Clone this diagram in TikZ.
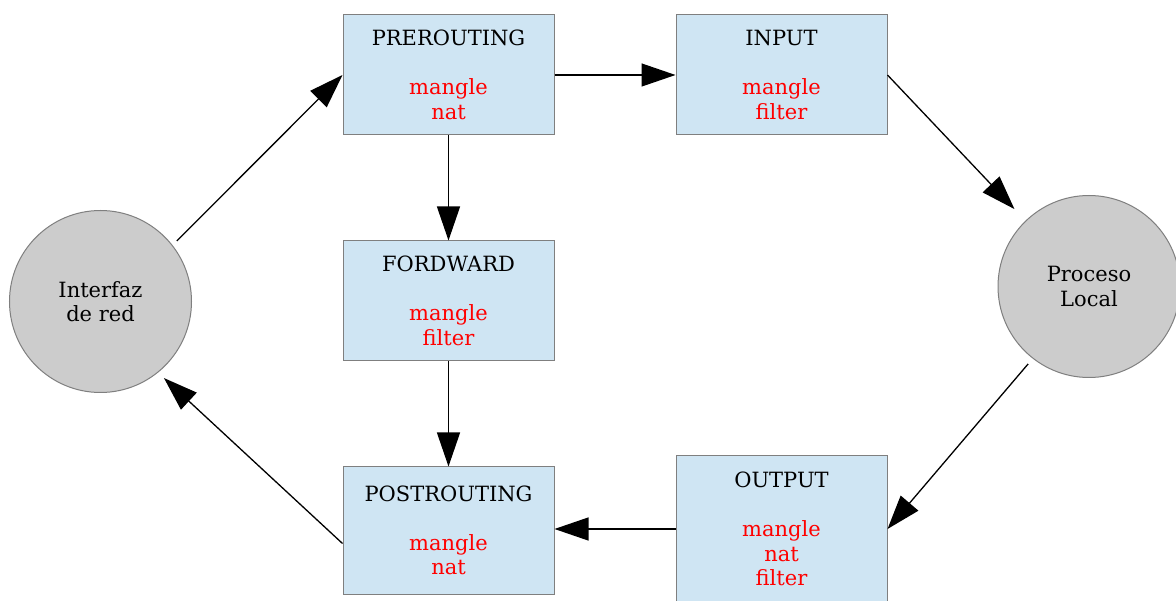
\documentclass[tikz,border=0pt]{standalone}
\usepackage{fontspec}
\setmainfont{DejaVu Serif}
\usetikzlibrary{arrows.meta}
\definecolor{boxfill}{HTML}{CFE5F3}
\definecolor{boxline}{HTML}{7F7F7F}
\definecolor{discfill}{HTML}{CCCCCC}
\definecolor{tablered}{HTML}{FF0000}
\tikzset{
  chain/.style={draw=boxline, fill=boxfill, line width=1pt,
    minimum width=211pt, inner sep=0pt, align=center,
    font=\fontsize{21}{24.5}\selectfont},
  endpoint/.style={draw=boxline, fill=discfill, line width=1pt, circle,
    minimum size=182pt, inner sep=0pt, align=center,
    font=\fontsize{21}{24.5}\selectfont},
  flow/.style={line width=1.3pt, -{Triangle[length=34pt,width=23pt]}},
}
\newcommand{\tbl}[1]{\textcolor{tablered}{#1}}
\begin{document}
\begin{tikzpicture}[x=1pt,y=-1pt]
\useasboundingbox (0,0) rectangle (1176,601);

% netfilter chains
\node[chain, minimum height=120pt] (pre) at (448.5,75)
  {PREROUTING\\[24.5pt]\tbl{mangle}\\\tbl{nat}};
\node[chain, minimum height=120pt] (inp) at (781.5,75)
  {INPUT\\[24.5pt]\tbl{mangle}\\\tbl{filter}};
\node[chain, minimum height=120pt] (fwd) at (448.5,301)
  {FORDWARD\\[24.5pt]\tbl{mangle}\\\tbl{filter}};
\node[chain, minimum height=127pt] (post) at (448.5,530.5)
  {POSTROUTING\\[24.5pt]\tbl{mangle}\\\tbl{nat}};
\node[chain, minimum height=146pt] (out) at (781.5,529)
  {OUTPUT\\[24.5pt]\tbl{mangle}\\\tbl{nat}\\\tbl{filter}};

% packet source and destination
\node[endpoint] (iface) at (100.5,301.5) {Interfaz\\ de red};
\node[endpoint] (proc) at (1089,286.5) {Proceso\\Local};

% packet paths
\draw[flow, shorten <=6pt] (iface.38) -- (pre.west);
\draw[flow] (pre.east) -- (inp.west);
\draw[flow, shorten >=16pt] (inp.east) -- (proc.134);
\draw[flow, shorten <=7pt] (proc.232) -- (out.east);
\draw[flow] (out.west) -- (out.west -| post.east);
\draw[flow, shorten >=8pt] ([yshift=-13pt]post.west) -- (iface.-51);
\draw[flow] (pre.south) -- (fwd.north);
\draw[flow] (fwd.south) -- (post.north);
\end{tikzpicture}
\end{document}
